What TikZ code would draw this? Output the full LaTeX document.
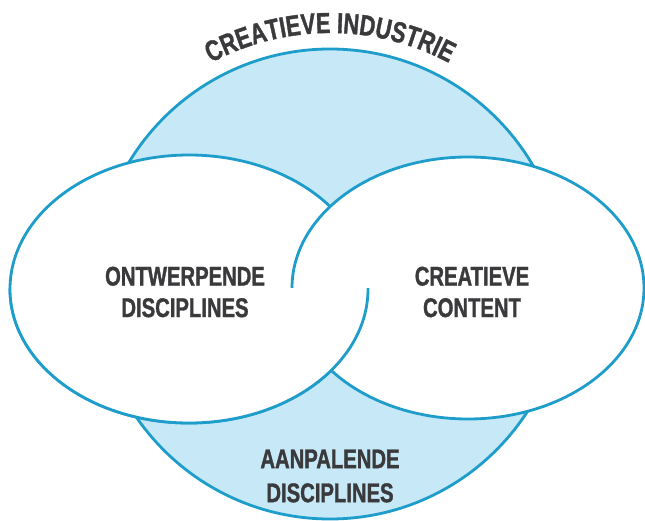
\documentclass[tikz,border=0pt]{standalone}
\usepackage{fontspec}
\newfontfamily\condfont{Liberation Sans}[FakeStretch=0.75, BoldFeatures={FakeBold=1.2}]
\usetikzlibrary{decorations.text}
\definecolor{lineblue}{HTML}{1E9DCB}
\definecolor{fillblue}{HTML}{C6E8F7}
\definecolor{txt}{HTML}{3A3A3C}
\newcommand{\lblfont}{\condfont\bfseries\fontsize{27}{31.5}\selectfont}
\newcommand{\arcfont}{\condfont\bfseries\fontsize{29}{29}\selectfont\color{txt}}
\begin{document}
\begin{tikzpicture}[x=1pt,y=1pt,
  outline/.style={draw=lineblue, line width=2.8pt},
  label/.style={text=txt, align=center, font=\lblfont, inner sep=0pt}]
\useasboundingbox (0,0) rectangle (645,520);
\fill[white] (0,0) rectangle (645,520);
\coordinate (C) at (330,236);
\coordinate (L) at (189,231);
\coordinate (R) at (468,232);
% big circle
\fill[fillblue] (C) circle[radius=235pt];
\draw[outline] (C) circle[radius=235pt];
% left ellipse
\fill[white] (L) ellipse[x radius=179pt, y radius=134pt];
\draw[outline] (L) ellipse[x radius=179pt, y radius=134pt];
% right ellipse (on top in upper half)
\fill[white] (R) ellipse[x radius=176pt, y radius=131pt];
\draw[outline] (R) ellipse[x radius=176pt, y radius=131pt];
% left ellipse on top in lower half
\begin{scope}
  \clip (0,0) rectangle (645,231);
  \fill[white] (L) ellipse[x radius=179pt, y radius=134pt];
  \draw[outline] (L) ellipse[x radius=179pt, y radius=134pt];
\end{scope}
% labels
\node[label] (ontw) at (185,228) {ONTWERPENDE\\DISCIPLINES};
\node[label] (crea) at (472,228) {CREATIEVE\\CONTENT};
\node[label, font=\condfont\bfseries\fontsize{27}{34}\selectfont] (aanp) at (330,44) {AANPALENDE\\DISCIPLINES};
% curved title
\path[decorate, decoration={text along path, text align=center,
  text={|\arcfont|CREATIEVE INDUSTRIE}}]
  (C) ++(122:251pt) arc[start angle=122, end angle=58, radius=251pt];
\end{tikzpicture}
\end{document}
